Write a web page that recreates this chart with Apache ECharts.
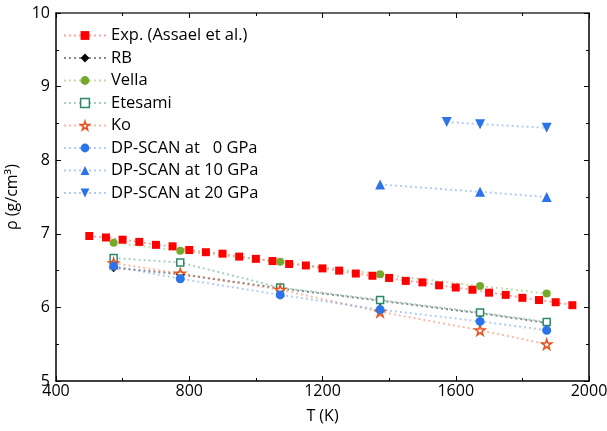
<!DOCTYPE html>
<html>
<head>
<meta charset="utf-8">
<script src="https://cdn.jsdelivr.net/npm/echarts@6/dist/echarts.min.js"></script>
<style>
  html, body { margin: 0; padding: 0; background: #fff; }
  #chart { width: 607px; height: 431px; }
</style>
</head>
<body>
<div id="chart"></div>
<script>
// experimental curve, every 50 K
const expT = [500, 550, 600, 650, 700, 750, 800, 850, 900, 950, 1000, 1050, 1100, 1150, 1200,
  1250, 1300, 1350, 1400, 1450, 1500, 1550, 1600, 1650, 1700, 1750, 1800, 1850, 1900, 1950]
const expRho = [6.97, 6.95, 6.92, 6.89, 6.85, 6.83, 6.78, 6.75, 6.73, 6.69, 6.66, 6.63, 6.59, 6.57, 6.53,
  6.50, 6.46, 6.43, 6.40, 6.36, 6.34, 6.30, 6.27, 6.24, 6.20, 6.17, 6.13, 6.10, 6.07, 6.03]

// simulation temperatures
const simT = [573, 773, 1073, 1373, 1673, 1873]
const rbRho = [6.54, 6.45, 6.26, 6.09, 5.92, 5.79]
const vellaRho = [6.88, 6.77, 6.62, 6.45, 6.29, 6.19]
const etesamiRho = [6.67, 6.61, 6.27, 6.10, 5.93, 5.80]
const koRho = [6.60, 6.46, 6.24, 5.94, 5.69, 5.50]
const dp0Rho = [6.56, 6.39, 6.17, 5.97, 5.81, 5.69]

const dp10T = [1373, 1673, 1873]
const dp10Rho = [7.67, 7.57, 7.50]
const dp20T = [1573, 1673, 1873]
const dp20Rho = [8.52, 8.49, 8.44]

const font = 'Open Sans, Noto Sans, sans-serif'
const zip = (xs, ys) => xs.map((x, i) => [x, ys[i]])
const starPath = 'path://M50,0 L61,35 L98,35 L68,57 L79,92 L50,70 L21,92 L32,57 L2,35 L39,35 Z'
const downTri = 'path://M0,0 L100,0 L50,90 Z'

const mkSeries = (name, xs, ys, color, lineColor, symbol, size, hollow) => ({
  name,
  type: 'line',
  data: zip(xs, ys),
  symbol,
  symbolSize: size,
  showAllSymbol: true,
  itemStyle: hollow
    ? { color: '#fff', borderColor: color, borderWidth: 1.5 }
    : { color, borderWidth: 0 },
  lineStyle: { color: lineColor, type: [2, 3], width: 2 },
  emphasis: { disabled: true },
  z: 3
})

const chart = echarts.init(document.getElementById('chart'))

const axisLine = { show: true, lineStyle: { color: '#000', width: 1.5 } }
const tick = { inside: true, length: 5, lineStyle: { color: '#000' } }
const minor = { show: true, splitNumber: 2, length: 3, lineStyle: { color: '#000' } }

chart.setOption({
  animation: false,
  grid: { left: 56, right: 18, top: 13, bottom: 50, outerBoundsMode: 'none', containLabel: false },
  legend: {
    left: 58,
    top: 22,
    orient: 'vertical',
    itemGap: 5.5,
    itemWidth: 42,
    itemHeight: 11,
    selectedMode: false,
    textStyle: { fontFamily: font, fontSize: 16.5, color: '#000' },
    data: [
      'Exp. (Assael et al.)', 'RB', 'Vella',
      { name: 'Etesami', itemStyle: { color: '#fff', borderColor: '#2a8a6a', borderWidth: 1.5 } },
      { name: 'Ko', itemStyle: { color: '#fff', borderColor: '#e8501c', borderWidth: 1.5 } },
      'DP-SCAN at   0 GPa', 'DP-SCAN at 10 GPa', 'DP-SCAN at 20 GPa'
    ]
  },
  xAxis: [{
    type: 'value',
    min: 400,
    max: 2000,
    interval: 400,
    name: 'T (K)',
    nameLocation: 'middle',
    nameGap: 27,
    nameTextStyle: { fontFamily: font, fontSize: 16, color: '#000' },
    axisLine,
    axisTick: tick,
    minorTick: minor,
    axisLabel: { fontFamily: font, fontSize: 16, color: '#000', margin: 2, formatter: v => String(v) },
    splitLine: { show: false }
  }, {
    type: 'value',
    position: 'top',
    min: 400,
    max: 2000,
    interval: 400,
    axisLine: { show: true, lineStyle: { color: '#333', width: 1.5 } },
    axisTick: tick,
    minorTick: minor,
    axisLabel: { show: false },
    splitLine: { show: false }
  }],
  yAxis: [{
    type: 'value',
    min: 5,
    max: 10,
    interval: 1,
    name: 'ρ (g/cm³)',
    nameLocation: 'middle',
    nameGap: 28,
    nameTextStyle: { fontFamily: font, fontSize: 16, color: '#000' },
    axisLine,
    axisTick: tick,
    minorTick: minor,
    axisLabel: { fontFamily: font, fontSize: 16, color: '#000', margin: 6, formatter: v => String(v) },
    splitLine: { show: false }
  }, {
    type: 'value',
    position: 'right',
    min: 5,
    max: 10,
    interval: 1,
    axisLine: { show: true, lineStyle: { color: '#000', width: 1.5 } },
    axisTick: tick,
    minorTick: minor,
    axisLabel: { show: false },
    splitLine: { show: false }
  }],
  series: [
    mkSeries('Exp. (Assael et al.)', expT, expRho, '#ff0000', 'rgba(255,90,90,0.55)', 'rect', 8),
    mkSeries('RB', simT, rbRho, '#000', 'rgba(40,40,40,0.55)', 'diamond', 9),
    mkSeries('Vella', simT, vellaRho, '#76a82e', 'rgba(140,190,80,0.5)', 'circle', 8),
    mkSeries('Etesami', simT, etesamiRho, '#2a8a6a', 'rgba(60,150,120,0.45)', 'rect', 7, true),
    mkSeries('Ko', simT, koRho, '#e8501c', 'rgba(240,120,80,0.5)', starPath, 10, true),
    mkSeries('DP-SCAN at   0 GPa', simT, dp0Rho, '#2a73e8', 'rgba(90,140,240,0.45)', 'circle', 9),
    mkSeries('DP-SCAN at 10 GPa', dp10T, dp10Rho, '#2a73e8', 'rgba(90,140,240,0.45)', 'triangle', 10),
    mkSeries('DP-SCAN at 20 GPa', dp20T, dp20Rho, '#2a73e8', 'rgba(90,140,240,0.45)', downTri, 10)
  ]
})
</script>
</body>
</html>
